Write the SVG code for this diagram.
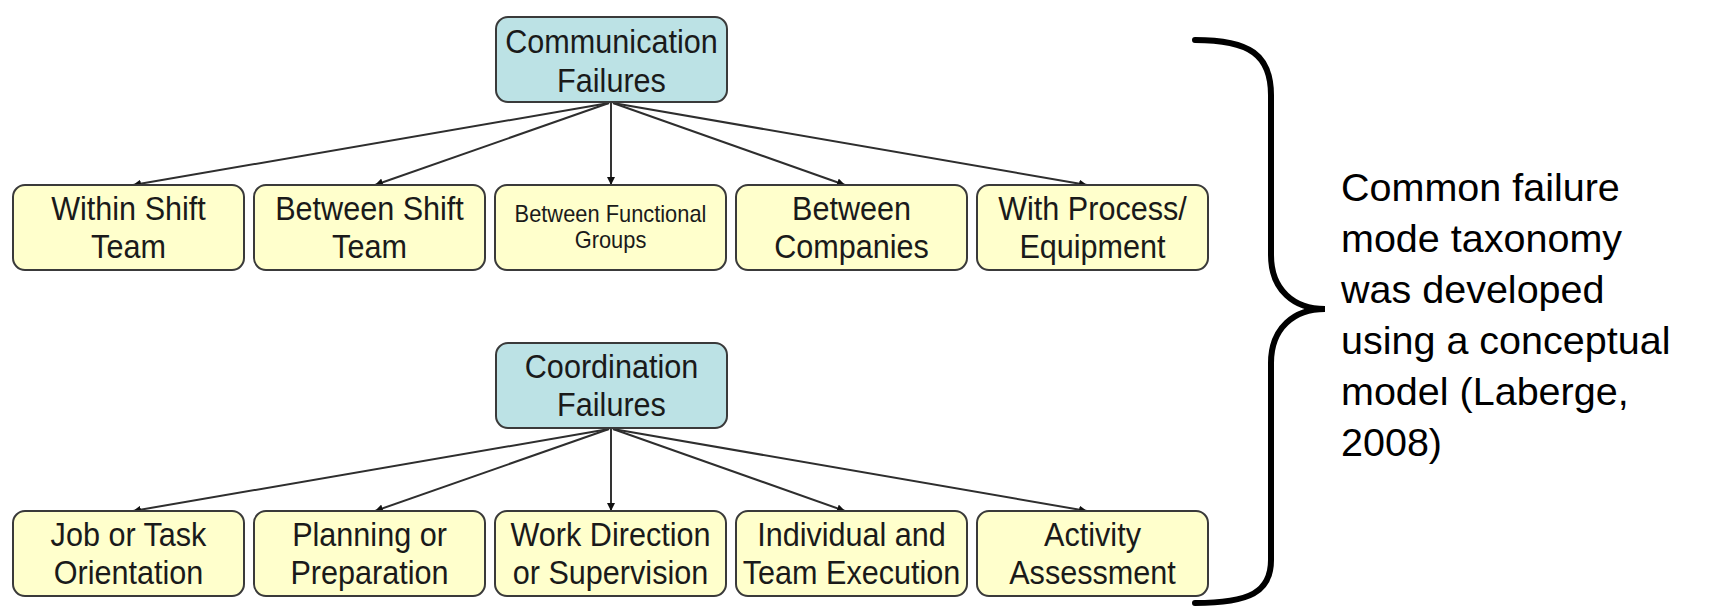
<svg xmlns="http://www.w3.org/2000/svg" width="1711" height="608" viewBox="0 0 1711 608">
<style>
.box{fill:#ffffcc;stroke:#3a3a3a;stroke-width:2}
.root{fill:#bce2e5;stroke:#3a3a3a;stroke-width:2}
.t{font-family:"Liberation Sans",Arial,sans-serif;font-size:34px;fill:#1a1a1a;text-anchor:middle}
.ts{font-family:"Liberation Sans",Arial,sans-serif;font-size:23px;fill:#1a1a1a;text-anchor:middle}
.c{stroke:#2e2e2e;stroke-width:2;fill:none;marker-end:url(#ah)}
.v{stroke:#000;stroke-width:1.6;fill:none;marker-end:url(#ah)}
.note{font-family:"Liberation Sans",Arial,sans-serif;font-size:39.5px;fill:#000}
</style>
<defs>
<marker id="ah" viewBox="0 0 10 10" refX="10" refY="5" markerWidth="8" markerHeight="8" markerUnits="userSpaceOnUse" orient="auto"><path d="M0,0 L10,5 L0,10 z" fill="#111"/></marker>
</defs>
<rect width="1711" height="608" fill="#fff"/>
<g id="connectors">
<line class="c" x1="609" y1="103" x2="133" y2="185"/>
<line class="c" x1="609" y1="103" x2="375" y2="185"/>
<line class="v" x1="611" y1="103" x2="611" y2="185"/>
<line class="c" x1="613" y1="103" x2="845" y2="185"/>
<line class="c" x1="613" y1="103" x2="1087" y2="185"/>
<line class="c" x1="609" y1="429" x2="133" y2="511"/>
<line class="c" x1="609" y1="429" x2="375" y2="511"/>
<line class="v" x1="611" y1="429" x2="611" y2="511"/>
<line class="c" x1="613" y1="429" x2="845" y2="511"/>
<line class="c" x1="613" y1="429" x2="1087" y2="511"/>
</g>
<g id="comm">
<rect class="root" x="496" y="17" width="231" height="85" rx="12"/>
<text class="t" transform="translate(611.5,53) scale(0.9,1)">Communication</text>
<text class="t" transform="translate(611.5,92) scale(0.9,1)">Failures</text>
</g>
<g id="within">
<rect class="box" x="13" y="185" width="231" height="85" rx="12"/>
<text class="t" transform="translate(128.5,220) scale(0.9,1)">Within Shift</text>
<text class="t" transform="translate(128.5,258) scale(0.9,1)">Team</text>
</g>
<g id="betweenshift">
<rect class="box" x="254" y="185" width="231" height="85" rx="12"/>
<text class="t" transform="translate(369.5,220) scale(0.9,1)">Between Shift</text>
<text class="t" transform="translate(369.5,258) scale(0.9,1)">Team</text>
</g>
<g id="functional">
<rect class="box" x="495" y="185" width="231" height="85" rx="12"/>
<text class="ts" transform="translate(610.5,222) scale(0.95,1)">Between Functional</text>
<text class="ts" transform="translate(610.5,248) scale(0.95,1)">Groups</text>
</g>
<g id="companies">
<rect class="box" x="736" y="185" width="231" height="85" rx="12"/>
<text class="t" transform="translate(851.5,220) scale(0.9,1)">Between</text>
<text class="t" transform="translate(851.5,258) scale(0.9,1)">Companies</text>
</g>
<g id="process">
<rect class="box" x="977" y="185" width="231" height="85" rx="12"/>
<text class="t" transform="translate(1092.5,220) scale(0.9,1)">With Process/</text>
<text class="t" transform="translate(1092.5,258) scale(0.9,1)">Equipment</text>
</g>
<g id="coord">
<rect class="root" x="496" y="343" width="231" height="85" rx="12"/>
<text class="t" transform="translate(611.5,378) scale(0.9,1)">Coordination</text>
<text class="t" transform="translate(611.5,416) scale(0.9,1)">Failures</text>
</g>
<g id="job">
<rect class="box" x="13" y="511" width="231" height="85" rx="12"/>
<text class="t" transform="translate(128.5,546) scale(0.9,1)">Job or Task</text>
<text class="t" transform="translate(128.5,584) scale(0.9,1)">Orientation</text>
</g>
<g id="planning">
<rect class="box" x="254" y="511" width="231" height="85" rx="12"/>
<text class="t" transform="translate(369.5,546) scale(0.9,1)">Planning or</text>
<text class="t" transform="translate(369.5,584) scale(0.9,1)">Preparation</text>
</g>
<g id="work">
<rect class="box" x="495" y="511" width="231" height="85" rx="12"/>
<text class="t" transform="translate(610.5,546) scale(0.9,1)">Work Direction</text>
<text class="t" transform="translate(610.5,584) scale(0.9,1)">or Supervision</text>
</g>
<g id="individual">
<rect class="box" x="736" y="511" width="231" height="85" rx="12"/>
<text class="t" transform="translate(851.5,546) scale(0.9,1)">Individual and</text>
<text class="t" transform="translate(851.5,584) scale(0.9,1)">Team Execution</text>
</g>
<g id="activity">
<rect class="box" x="977" y="511" width="231" height="85" rx="12"/>
<text class="t" transform="translate(1092.5,546) scale(0.9,1)">Activity</text>
<text class="t" transform="translate(1092.5,584) scale(0.9,1)">Assessment</text>
</g>
<g id="brace">
<path d="M1195,40 C1250,40 1271,55 1271,95 L1271,255 C1271,290 1294,309 1325,309 C1294,309 1271,328 1271,363 L1271,560 C1271,592 1250,603 1195,603" fill="none" stroke="#000" stroke-width="6" stroke-linecap="round"/>
</g>
<g id="note">
<text class="note" x="1341" y="201">Common failure</text>
<text class="note" x="1341" y="252">mode taxonomy</text>
<text class="note" x="1341" y="303">was developed</text>
<text class="note" x="1341" y="354">using a conceptual</text>
<text class="note" x="1341" y="405">model (Laberge,</text>
<text class="note" x="1341" y="456">2008)</text>
</g>
</svg>
